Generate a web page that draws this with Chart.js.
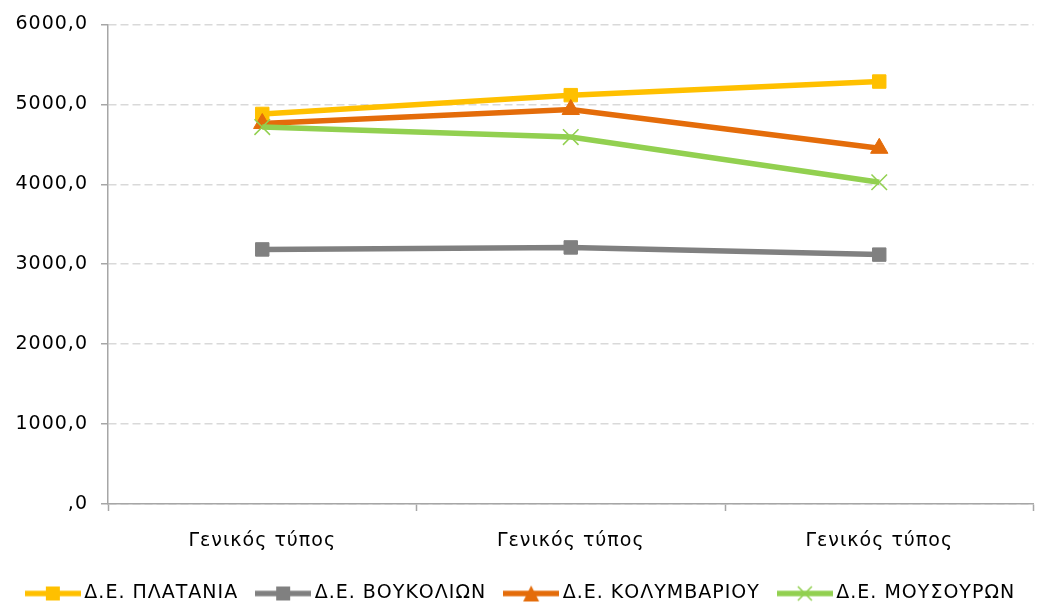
<!DOCTYPE html>
<html>
<head>
<meta charset="utf-8">
<script src="https://cdn.jsdelivr.net/npm/chart.js@4.4.1/dist/chart.umd.min.js"></script>
<style>
  html, body { margin: 0; padding: 0; background: #fff; }
  #wrap { width: 1046px; height: 603px; }
</style>
</head>
<body>
<div id="wrap"><canvas id="lineChart"></canvas></div>
<script>
// data
const categories = ['Γενικός τύπος', 'Γενικός τύπος', 'Γενικός τύπος'];
const seriesNames = ['Δ.Ε. ΠΛΑΤΑΝΙΑ', 'Δ.Ε. ΒΟΥΚΟΛΙΩΝ', 'Δ.Ε. ΚΟΛΥΜΒΑΡΙΟΥ', 'Δ.Ε. ΜΟΥΣΟΥΡΩΝ'];
const plataniaValues = [4880, 5115, 5285];
const voukolionValues = [3185, 3210, 3120];
const kolymvariouValues = [4760, 4935, 4450];
const mousouronValues = [4715, 4590, 4025];
const yTicks = [0, 1000, 2000, 3000, 4000, 5000, 6000];

const colors = ['#FFC000', '#808080', '#E46C0A', '#92D050'];
const markers = ['rect', 'rect', 'triangle', 'crossRot'];
const FONT = '"DejaVu Sans", sans-serif';

// the source text is set a bit wider than DejaVu, so spread the letters slightly
const spacing = {
    id: 'spacing',
    beforeUpdate: c => { c.ctx.letterSpacing = '1px'; },
    beforeDraw: c => { c.ctx.letterSpacing = '1px'; }
};

// legend symbol: a short line with the marker in the middle
function legendIcon(color, style) {
    const c = document.createElement('canvas');
    c.width = 56; c.height = 18;
    const g = c.getContext('2d');
    g.strokeStyle = color;
    g.fillStyle = color;
    g.lineWidth = 5.5;
    g.beginPath(); g.moveTo(0, 9); g.lineTo(56, 9); g.stroke();
    if (style === 'rect') {
        g.fillRect(21, 2, 14, 14);
    } else if (style === 'triangle') {
        g.beginPath(); g.moveTo(28, 1); g.lineTo(36, 17); g.lineTo(20, 17); g.closePath(); g.fill();
    } else {
        g.lineWidth = 1.5;
        g.beginPath();
        g.moveTo(21, 2); g.lineTo(35, 16);
        g.moveTo(35, 2); g.lineTo(21, 16);
        g.stroke();
    }
    return c;
}

function makeSet(i, values) {
    const m = markers[i];
    return {
        label: seriesNames[i],
        data: values,
        borderColor: colors[i],
        backgroundColor: colors[i],
        borderWidth: 5.5,
        pointStyle: m,
        pointRadius: m === 'crossRot' ? 11 : (m === 'triangle' ? 10 : 9.5),
        pointBorderWidth: m === 'crossRot' ? 1.5 : 1,
        pointBorderColor: colors[i],
        pointBackgroundColor: colors[i],
        tension: 0,
        order: 4 - i
    };
}

const ctx = document.getElementById('lineChart').getContext('2d');
new Chart(ctx, {
    type: 'line',
    data: {
        labels: categories,
        datasets: [
            makeSet(0, plataniaValues),
            makeSet(1, voukolionValues),
            makeSet(2, kolymvariouValues),
            makeSet(3, mousouronValues)
        ]
    },
    plugins: [spacing],
    options: {
        responsive: true,
        maintainAspectRatio: false,
        animation: false,
        layout: { padding: { top: 7, right: 0, left: 0, bottom: -10 } },
        plugins: {
            tooltip: { enabled: false },
            legend: {
                position: 'bottom',
                labels: {
                    font: { family: FONT, size: 19 },
                    color: '#000',
                    usePointStyle: true,
                    pointStyleWidth: 44,
                    padding: 23,
                    sort: (a, b) => a.datasetIndex - b.datasetIndex,
                    generateLabels: chart => chart.data.datasets.map((ds, i) => ({
                        text: ds.label,
                        pointStyle: legendIcon(colors[i], markers[i]),
                        fillStyle: colors[i],
                        strokeStyle: colors[i],
                        lineWidth: 0,
                        fontColor: '#000',
                        datasetIndex: i
                    }))
                }
            }
        },
        scales: {
            x: {
                offset: true,
                grid: {
                    offset: true,
                    drawOnChartArea: false,
                    drawTicks: true,
                    tickLength: 7,
                    tickColor: '#A6A6A6',
                    tickWidth: 1.5
                },
                border: { color: '#A6A6A6', width: 1.5 },
                ticks: {
                    font: { family: FONT, size: 19 },
                    color: '#000',
                    padding: 19,
                    maxRotation: 0
                },
                afterFit: s => { s.height = 57; }
            },
            y: {
                min: 0,
                max: 6000,
                afterBuildTicks: s => { s.ticks = yTicks.map(v => ({ value: v })); },
                grid: {
                    color: '#D9D9D9',
                    lineWidth: 1.5,
                    tickBorderDash: [],
                    tickColor: '#A6A6A6',
                    tickWidth: 1.5,
                    tickLength: 7
                },
                border: { color: '#A6A6A6', width: 1.5, dash: [8, 4] },
                ticks: {
                    font: { family: FONT, size: 19 },
                    color: '#000',
                    padding: 13,
                    callback: v => v === 0 ? ',0' : v.toFixed(1).replace('.', ',')
                },
                afterFit: s => { s.width = 108; }
            },
            // empty strip that keeps the plot clear of the right edge
            yRight: {
                position: 'right',
                grid: { display: false },
                border: { display: false },
                ticks: { display: false },
                afterFit: s => { s.width = 11; }
            }
        }
    }
});
</script>
</body>
</html>
